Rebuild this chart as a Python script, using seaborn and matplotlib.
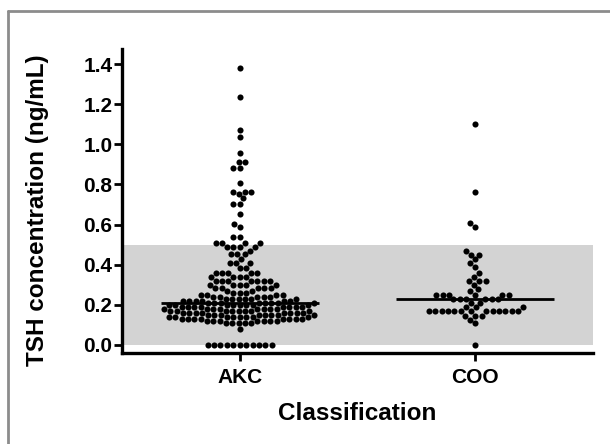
import numpy as np
import pandas as pd
import matplotlib
matplotlib.use("Agg")
import matplotlib.pyplot as plt
from matplotlib.lines import Line2D
import seaborn as sns

categories = ["AKC", "COO"]

akc_values = [
    0.0, 0.0, 0.0, 0.0, 0.0, 0.0, 0.0, 0.0, 0.0, 0.0, 0.0,
    0.08,
    0.11, 0.11, 0.11, 0.11, 0.11,
    0.12, 0.12, 0.12, 0.12, 0.12, 0.12, 0.12,
    0.13, 0.13, 0.13, 0.13, 0.13, 0.13, 0.13, 0.13,
    0.14, 0.14, 0.14, 0.14, 0.14, 0.14, 0.14, 0.14,
    0.15, 0.15, 0.15, 0.15, 0.15, 0.15, 0.15, 0.15,
    0.16, 0.16, 0.16, 0.16, 0.16, 0.16, 0.16, 0.16,
    0.17, 0.17, 0.17, 0.17, 0.17, 0.17, 0.17, 0.17,
    0.18, 0.18, 0.18, 0.18, 0.18, 0.18, 0.18, 0.18,
    0.19, 0.19, 0.19, 0.19, 0.19, 0.19, 0.19, 0.19,
    0.20, 0.20, 0.20, 0.20, 0.20, 0.20, 0.20, 0.20,
    0.21, 0.21, 0.21, 0.21, 0.21, 0.21, 0.21, 0.21,
    0.22, 0.22, 0.22, 0.22, 0.22, 0.22,
    0.23, 0.23, 0.23, 0.23, 0.23, 0.23,
    0.24, 0.24, 0.24, 0.24, 0.24,
    0.25, 0.25, 0.25, 0.25,
    0.26, 0.26, 0.26,
    0.27, 0.27,
    0.285, 0.285, 0.285, 0.285, 0.285,
    0.30, 0.30, 0.30, 0.30, 0.30,
    0.32, 0.32, 0.32, 0.32, 0.32, 0.32, 0.32,
    0.34, 0.34, 0.34, 0.34,
    0.36, 0.36, 0.36, 0.36, 0.36,
    0.385, 0.385,
    0.41, 0.41, 0.41,
    0.43,
    0.455, 0.455, 0.455,
    0.47,
    0.49, 0.49, 0.49, 0.49,
    0.51, 0.51, 0.51, 0.51,
    0.54, 0.54,
    0.59, 0.605, 0.655,
    0.705, 0.705,
    0.73, 0.75,
    0.76, 0.76, 0.76,
    0.805,
    0.88, 0.88,
    0.91, 0.91,
    0.955, 1.035, 1.07, 1.235, 1.38,
]

coo_values = [
    0.0, 0.107, 0.125,
    0.145, 0.145, 0.145,
    0.167, 0.167, 0.167, 0.167, 0.167, 0.167, 0.167, 0.167, 0.167, 0.167, 0.167, 0.167, 0.167,
    0.187, 0.187, 0.187,
    0.21, 0.21,
    0.227, 0.227, 0.227, 0.227, 0.227, 0.227,
    0.25, 0.25, 0.25, 0.25, 0.25, 0.25,
    0.267, 0.277, 0.30,
    0.318, 0.318, 0.318,
    0.337, 0.358, 0.39, 0.407, 0.427,
    0.45, 0.45, 0.467,
    0.587, 0.607, 0.76, 1.10,
]

ytick_values = [0.0, 0.2, 0.4, 0.6, 0.8, 1.0, 1.2, 1.4]
ref_range = [0.0, 0.5]

df = pd.DataFrame({
    "Classification": [categories[0]] * len(akc_values) + [categories[1]] * len(coo_values),
    "TSH": akc_values + coo_values,
})

sns.set_style("ticks")
plt.rcParams["font.family"] = ["Liberation Sans", "DejaVu Sans"]
plt.rcParams["font.weight"] = "bold"
for key in ["text.color", "axes.labelcolor", "xtick.color", "ytick.color", "axes.edgecolor"]:
    plt.rcParams[key] = "black"

fig = plt.figure(figsize=(6.1, 4.44), dpi=100)
ax = fig.add_axes([122 / 610, (444 - 353) / 444, (593 - 122) / 610, (353 - 49) / 444])

ax.axhspan(ref_range[0], ref_range[1], color="#d3d3d3", zorder=0, lw=0)

sns.swarmplot(data=df, x="Classification", y="TSH", order=categories,
              color="black", size=4.4, ax=ax, zorder=3)
sns.boxplot(data=df, x="Classification", y="TSH", order=categories,
            showbox=False, showcaps=False, showfliers=False,
            whiskerprops={"visible": False},
            medianprops={"color": "black", "linewidth": 2.0, "zorder": 10},
            width=0.67, ax=ax)

ax.set_xlim(-0.5, 1.5)
ax.set_ylim(-0.042, 1.477)
ax.set_yticks(ytick_values)
ax.set_yticklabels([f"{v:.1f}" for v in ytick_values])
sns.despine(ax=ax)
for s in ["left", "bottom"]:
    ax.spines[s].set_linewidth(2.4)
    ax.spines[s].set_color("black")
ax.tick_params(axis="both", width=2.0, length=6, labelsize=15, colors="black")
ax.tick_params(axis="y", pad=1)
ax.tick_params(axis="x", pad=5)
for lab in ax.get_xticklabels() + ax.get_yticklabels():
    lab.set_fontweight("bold")

ax.set_xlabel("Classification", fontsize=17.5, fontweight="bold")
ax.set_ylabel("TSH concentration (ng/mL)", fontsize=17.5, fontweight="bold")
ax.xaxis.set_label_coords(0.5, -0.16)
ax.yaxis.set_label_coords(-0.155, 0.47)

# outer gray frame
fig.add_artist(Line2D([8 / 610, 8 / 610], [0, 1 - 11 / 444], transform=fig.transFigure,
                      color="#8c8c8c", lw=2))
fig.add_artist(Line2D([8 / 610, 1], [1 - 11 / 444, 1 - 11 / 444], transform=fig.transFigure,
                      color="#8c8c8c", lw=2))

fig.savefig("out.png", dpi=100)
